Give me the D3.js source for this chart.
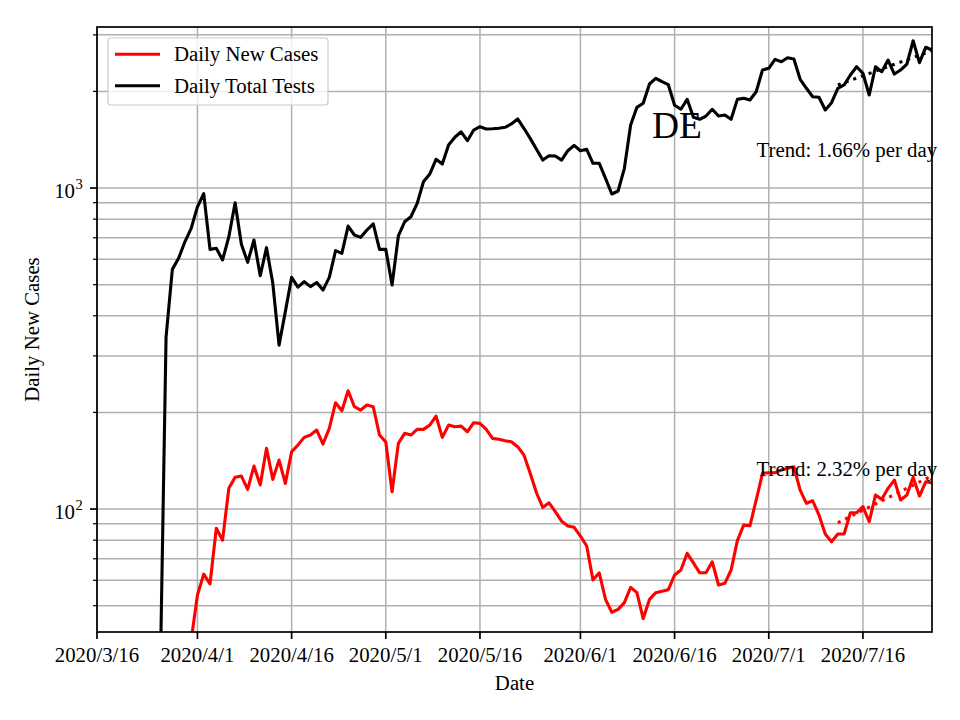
<!DOCTYPE html>
<html>
<head>
<meta charset="utf-8">
<script src="https://cdn.jsdelivr.net/npm/d3@7"></script>
<style>
  html, body { margin: 0; padding: 0; background: #fff; }
  svg { display: block; }
  text { font-family: "Liberation Serif", "Times New Roman", serif; fill: #000; }
</style>
</head>
<body>
<svg id="chart" width="960" height="720"></svg>
<script>
// ---------------- DATA ----------------
const xDomainStart = "2020-03-16";
const xDomainEnd = "2020-07-27";
const testsStart = "2020-03-26";   // first date of testsValues
const casesStart = "2020-03-31";   // first date of casesValues

const testsValues = [
  25, 343, 558, 604, 680, 749, 874, 960, 644, 649,
  597, 705, 900, 668, 587, 689, 533, 652, 505, 324,
  412, 527, 491, 511, 493, 508, 481, 527, 638, 626,
  761, 714, 702, 740, 773, 644, 644, 499, 709, 785,
  814, 896, 1046, 1105, 1229, 1188, 1361, 1439, 1497, 1404,
  1516, 1552, 1527, 1530, 1535, 1546, 1583, 1641, 1535, 1428,
  1320, 1222, 1261, 1258, 1222, 1307, 1358, 1307, 1320, 1194,
  1194, 1072, 958, 979, 1152, 1572, 1784, 1836, 2109, 2196,
  2144, 2098, 1810, 1760, 1889, 1661, 1637, 1676, 1759, 1676,
  1688, 1637, 1889, 1903, 1880, 1995, 2331, 2360, 2517, 2474,
  2546, 2523, 2181, 2045, 1925, 1917, 1750, 1844, 2045, 2094,
  2249, 2387, 2277, 1949, 2387, 2303, 2505, 2265, 2331, 2434,
  2876, 2457, 2744, 2691
];

const casesValues = [
  39, 54, 62.7, 58.4, 87.1, 80.0, 116.0, 125.6, 126.7, 115.2,
  136.1, 118.8, 154.6, 123.7, 142.1, 120.2, 150.8, 158.2, 167.2, 170.0,
  176.2, 159.4, 178.4, 214.4, 202.4, 233.6, 208.3, 203.4, 210.9, 208.3,
  170.0, 161.7, 113.2, 160.2, 172.1, 170.0, 177.1, 177.1, 182.6, 194.9,
  167.2, 182.6, 180.4, 181.3, 174.1, 185.8, 184.9, 177.1, 166.0, 164.9,
  163.2, 162.1, 156.4, 147.3, 129.2, 112.4, 101.2, 104.6, 98.1, 91.7,
  88.5, 87.7, 82.4, 76.7, 60.1, 63.3, 52.3, 47.7, 48.7, 51.1,
  57.0, 54.9, 45.6, 52.3, 54.9, 55.5, 56.1, 62.3, 64.6, 72.8,
  68.0, 63.3, 63.3, 68.5, 58.0, 58.7, 64.6, 79.7, 89.1, 88.7,
  106.7, 129.2, 129.8, 129.8, 132.3, 133.9, 135.4, 114.6, 104.2, 106.1,
  95.8, 83.6, 79.1, 83.6, 83.6, 97.4, 97.4, 101.7, 91.3, 110.6,
  107.2, 116.0, 123.1, 106.7, 110.6, 125.6, 109.8, 121.6, 120.7
];

// trend lines: [start date, end date] and [start value, end value]
const trendDates = ["2020-07-12", "2020-07-27"];
const testsTrend = [2094, 2680];
const casesTrend = [90.6, 127];

const xTickDates = ["2020-03-16","2020-04-01","2020-04-16","2020-05-01","2020-05-16",
                    "2020-06-01","2020-06-16","2020-07-01","2020-07-16"];
const xTickLabels = ["2020/3/16","2020/4/1","2020/4/16","2020/5/1","2020/5/16",
                     "2020/6/1","2020/6/16","2020/7/1","2020/7/16"];
const yMajorTicks = [100, 1000];
const yMajorExp = ["2", "3"];
const yMinorTicks = [50, 60, 70, 80, 90, 200, 300, 400, 500, 600, 700, 800, 900, 2000, 3000];
const yDomain = [41.4, 3174];

const seriesNames = ["Daily New Cases", "Daily Total Tests"];
const seriesColors = ["#ff0000", "#000000"];
const trendTexts = ["Trend: 1.66% per day", "Trend: 2.32% per day"];
const countryLabel = "DE";
const xLabel = "Date";
const yLabel = "Daily New Cases";

// ---------------- CHART ----------------
const parse = d3.utcParse("%Y-%m-%d");
const DAY = 86400000;
const seriesFrom = (start, vals) => {
  const s = parse(start).getTime();
  return vals.map((v, i) => ({ date: new Date(s + i * DAY), value: v }));
};
const tests = seriesFrom(testsStart, testsValues);
const cases = seriesFrom(casesStart, casesValues);

const L = 97, R = 932, T = 27, B = 632;
const svg = d3.select("#chart");
const x = d3.scaleUtc().domain([parse(xDomainStart), parse(xDomainEnd)]).range([L, R]);
const y = d3.scaleLog().domain(yDomain).range([B, T]);

const FS = 20.8;
const gridColor = "#b0b0b0";
const gridW = 1.5;

svg.append("defs").append("clipPath").attr("id", "clip")
  .append("rect").attr("x", L).attr("y", T).attr("width", R - L).attr("height", B - T);

// grid
const grid = svg.append("g");
grid.selectAll(".gx").data(xTickDates).join("line")
  .attr("x1", d => x(parse(d))).attr("x2", d => x(parse(d)))
  .attr("y1", T).attr("y2", B)
  .attr("stroke", gridColor).attr("stroke-width", gridW);
grid.selectAll(".gy").data(yMajorTicks.concat(yMinorTicks)).join("line")
  .attr("x1", L).attr("x2", R)
  .attr("y1", d => y(d)).attr("y2", d => y(d))
  .attr("stroke", gridColor).attr("stroke-width", gridW);

// lines
const line = d3.line().x(d => x(d.date)).y(d => y(d.value));
const plot = svg.append("g").attr("clip-path", "url(#clip)");
plot.append("path").datum(cases).attr("d", line)
  .attr("fill", "none").attr("stroke", seriesColors[0]).attr("stroke-width", 3.1)
  .attr("stroke-linejoin", "round").attr("stroke-linecap", "square");
plot.append("path").datum(tests).attr("d", line)
  .attr("fill", "none").attr("stroke", seriesColors[1]).attr("stroke-width", 3.1)
  .attr("stroke-linejoin", "round").attr("stroke-linecap", "square");

// trend lines
const trendSeries = (vals) => trendDates.map((d, i) => ({ date: parse(d), value: vals[i] }));
plot.append("path").datum(trendSeries(casesTrend)).attr("d", line)
  .attr("fill", "none").attr("stroke", seriesColors[0]).attr("stroke-width", 3.1)
  .attr("stroke-dasharray", "3.1,5.1");
plot.append("path").datum(trendSeries(testsTrend)).attr("d", line)
  .attr("fill", "none").attr("stroke", seriesColors[1]).attr("stroke-width", 3.1)
  .attr("stroke-dasharray", "3.1,5.1");

// spines
svg.append("rect").attr("x", L).attr("y", T).attr("width", R - L).attr("height", B - T)
  .attr("fill", "none").attr("stroke", "#000").attr("stroke-width", 1.7);

// x axis ticks
const xAxis = svg.append("g");
xAxis.selectAll("line").data(xTickDates).join("line")
  .attr("x1", d => x(parse(d))).attr("x2", d => x(parse(d)))
  .attr("y1", B).attr("y2", B + 7)
  .attr("stroke", "#000").attr("stroke-width", 1.7);
xAxis.selectAll("text").data(xTickLabels).join("text")
  .attr("x", (d, i) => x(parse(xTickDates[i]))).attr("y", 662)
  .attr("text-anchor", "middle").attr("font-size", FS).text(d => d);

// y axis ticks
const yAxis = svg.append("g");
yAxis.selectAll(".maj").data(yMajorTicks).join("line")
  .attr("x1", L - 7).attr("x2", L).attr("y1", d => y(d)).attr("y2", d => y(d))
  .attr("stroke", "#000").attr("stroke-width", 1.7);
yAxis.selectAll(".min").data(yMinorTicks).join("line")
  .attr("x1", L - 4).attr("x2", L).attr("y1", d => y(d)).attr("y2", d => y(d))
  .attr("stroke", "#000").attr("stroke-width", 1.2);
yAxis.selectAll(".ylab").data(yMajorTicks).join("g")
  .each(function (d, i) {
    const g = d3.select(this);
    g.append("text").attr("x", 75).attr("y", y(d) + 10)
      .attr("text-anchor", "end").attr("font-size", FS).text("10");
    g.append("text").attr("x", 75.5).attr("y", y(d) + 0.5)
      .attr("text-anchor", "start").attr("font-size", 14.6).text(yMajorExp[i]);
  });

// axis labels
svg.append("text").attr("x", (L + R) / 2).attr("y", 690)
  .attr("text-anchor", "middle").attr("font-size", FS).text(xLabel);
svg.append("text").attr("transform", `translate(39,${(T + B) / 2}) rotate(-90)`)
  .attr("text-anchor", "middle").attr("font-size", FS).text(yLabel);

// annotations
svg.append("text").attr("x", 652).attr("y", 137.5)
  .attr("font-size", 37.5).text(countryLabel);
svg.append("text").attr("x", 756.5).attr("y", 157.3)
  .attr("font-size", FS).text(trendTexts[0]);
svg.append("text").attr("x", 756.5).attr("y", 475.5)
  .attr("font-size", FS).text(trendTexts[1]);

// legend
const lg = svg.append("g");
lg.append("rect").attr("x", 108).attr("y", 38).attr("width", 220).attr("height", 67)
  .attr("rx", 3).attr("fill", "#fff").attr("fill-opacity", 0.8)
  .attr("stroke", "#cccccc").attr("stroke-width", 1.2);
const legendYs = [54.3, 85.7];
seriesNames.forEach((name, i) => {
  lg.append("line").attr("x1", 115).attr("x2", 160)
    .attr("y1", legendYs[i]).attr("y2", legendYs[i])
    .attr("stroke", seriesColors[i]).attr("stroke-width", 3.1);
  lg.append("text").attr("x", 174).attr("y", legendYs[i] + 7)
    .attr("font-size", FS).text(name);
});
</script>
</body>
</html>
